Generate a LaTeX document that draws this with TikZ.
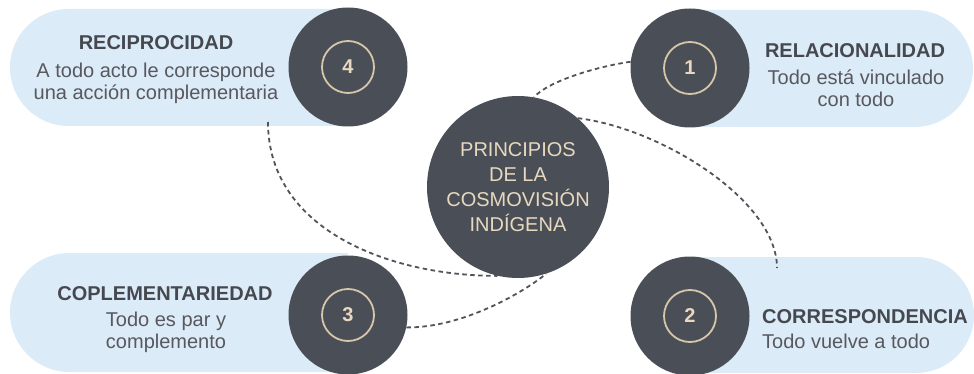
\documentclass[tikz,border=0pt]{standalone}
\usepackage{fontspec}
\setmainfont{Liberation Sans}
\usepackage{xcolor}
\usetikzlibrary{positioning}
\definecolor{pillblue}{RGB}{220,235,248}
\definecolor{darkdot}{RGB}{74,79,87}
\definecolor{beige}{RGB}{232,216,190}
\definecolor{ringc}{RGB}{215,198,170}
\definecolor{titlec}{RGB}{70,72,80}
\definecolor{bodyc}{RGB}{88,88,94}
\definecolor{dashc}{RGB}{80,83,90}
\tikzset{
  bigdot/.style={circle,fill=darkdot,minimum size=119pt,inner sep=0pt},
  hub/.style={circle,fill=darkdot,minimum size=182pt,inner sep=0pt,text=beige,align=center,font=\fontsize{20}{25}\selectfont},
  numring/.style={circle,draw=ringc,line width=1.8pt,minimum size=52pt,inner sep=0pt,text=beige,font=\bfseries\fontsize{20}{24}\selectfont},
  ptitle/.style={anchor=base,text=titlec,font=\bfseries\fontsize{20}{24}\selectfont,inner sep=0pt},
  pbody/.style={anchor=base,text=bodyc,align=center,font=\fontsize{20}{22}\selectfont,inner sep=0pt},
  link/.style={dashc,line width=1.8pt,dash pattern=on 4.5pt off 3.5pt},
}
\begin{document}
\begin{tikzpicture}[x=1pt,y=-1pt]
  \useasboundingbox (0,0) rectangle (974,374);
  \fill[pillblue] (348,9) -- (68.5,9) arc[start angle=90,end angle=270,radius=58.5pt] -- (348,126) -- cycle;
  \fill[pillblue] (690,10) -- (914.5,10) arc[start angle=90,end angle=-90,radius=58.5pt] -- (690,127) -- cycle;
  \fill[pillblue] (348,253) -- (69.5,253) arc[start angle=90,end angle=270,radius=59.5pt] -- (348,372) -- cycle;
  \fill[pillblue] (690,257) -- (916,257) arc[start angle=90,end angle=-90,radius=58pt] -- (690,373) -- cycle;

  \node[hub] (hub) at (518,187) {PRINCIPIOS\\DE LA\\COSMOVISIÓN\\INDÍGENA};
  \node[bigdot] (c1) at (690,68) {};
  \node[bigdot] (c2) at (690,316) {};
  \node[bigdot] (c3) at (348,315) {};
  \node[bigdot] (c4) at (348,67) {};
  \node[numring] (r1) at (c1) {1};
  \node[numring] (r2) at (c2) {2};
  \node[numring] (r3) at (c3) {3};
  \node[numring] (r4) at (c4) {4};

  % multi-line nodes sit on the baseline of their last line
  \node[ptitle] (t4) at (156,50) {RECIPROCIDAD};
  \node[pbody] (b4) at (156,100) {A todo acto le corresponde\\una acción complementaria};
  \node[ptitle] (t1) at (855,58) {RELACIONALIDAD};
  \node[pbody] (b1) at (856,107) {Todo está vinculado\\con todo};
  \node[ptitle] (t3) at (165,300) {COPLEMENTARIEDAD};
  \node[pbody] (b3) at (166,348) {Todo es par y\\complemento};
  \node[ptitle,anchor=base west] (t2) at (762,323) {CORRESPONDENCIA};
  \node[pbody,anchor=base west] (b2) at (762,348) {Todo vuelve a todo};

  \coordinate (e2) at (777,268);
  \coordinate (e4) at (268,122);
  \draw[link] (c1.174) .. controls (600,66) and (550,80) .. (hub.80);
  \draw[link] (hub.49) .. controls (660,128) and (777,200) .. (e2);
  \draw[link] (e4) .. controls (268,230) and (390,276) .. (hub.257);
  \draw[link] (c3.-12) .. controls (460,328) and (520,295) .. (hub.-72);
\end{tikzpicture}
\end{document}
